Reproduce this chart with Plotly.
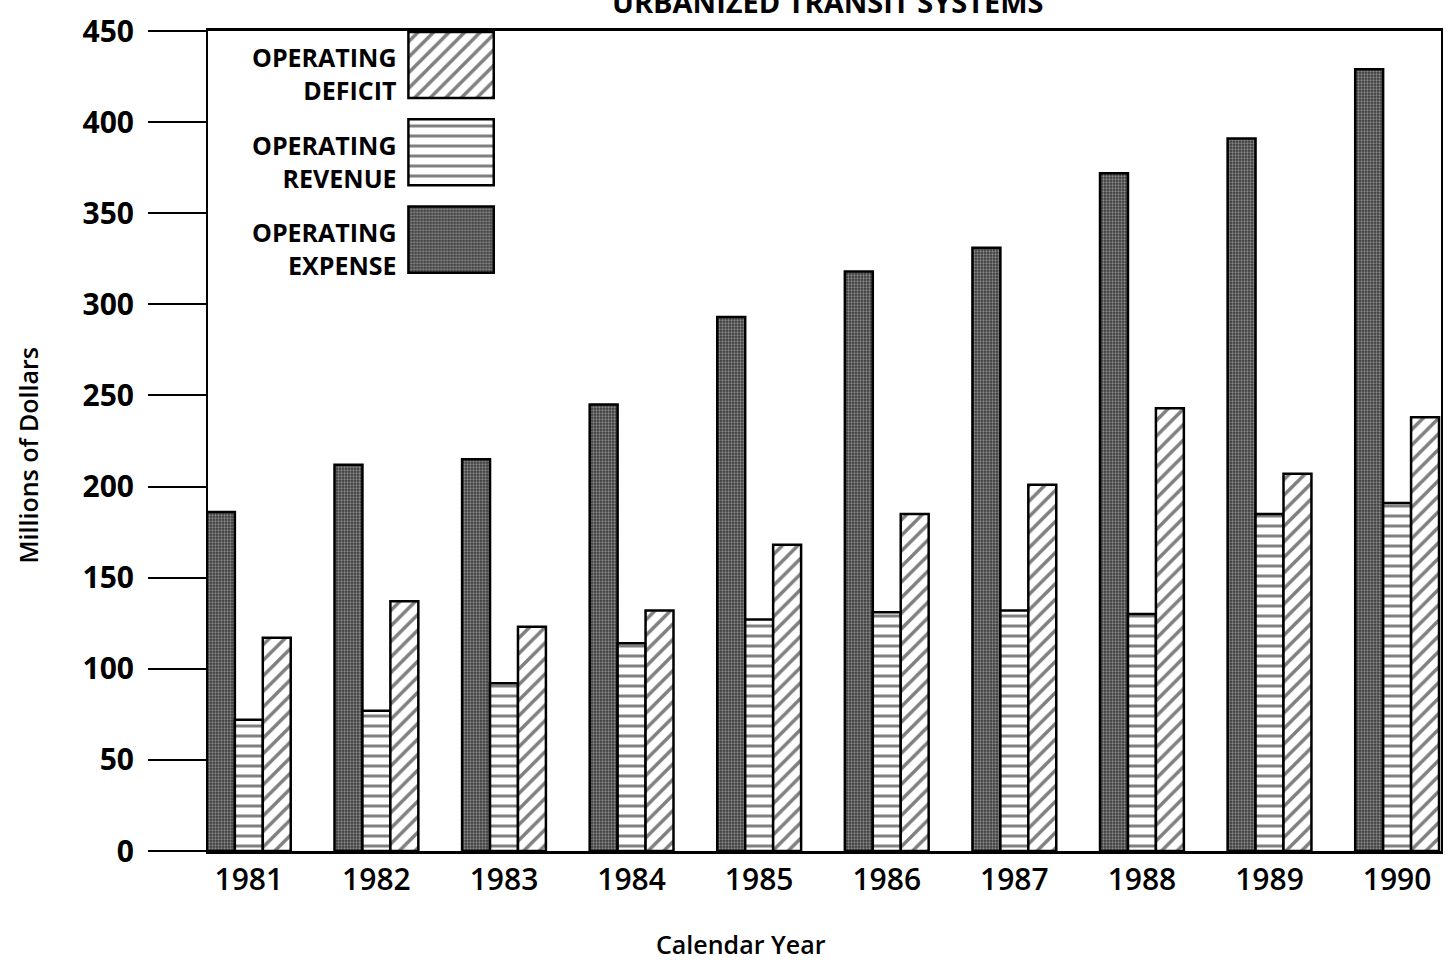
import plotly.graph_objects as go

# ---- data (millions of dollars) ----
years = ["1981", "1982", "1983", "1984", "1985", "1986", "1987", "1988", "1989", "1990"]
expense = [186, 212, 215, 245, 293, 318, 331, 372, 391, 429]
revenue = [72, 77, 92, 114, 127, 131, 132, 130, 185, 191]
deficit = [117, 137, 123, 132, 168, 185, 201, 243, 207, 238]
y_ticks = [0, 50, 100, 150, 200, 250, 300, 350, 400, 450]
legend_labels = ["OPERATING<br>DEFICIT", "OPERATING<br>REVENUE", "OPERATING<br>EXPENSE"]
title_text = "URBANIZED TRANSIT SYSTEMS"
x_title = "Calendar Year"
y_title = "Millions of Dollars"

FONT = "Open Sans"
LINE = dict(color="black", width=2.5)

styles = {
    "expense": dict(color="#454545", line=LINE,
                    pattern=dict(shape=".", fgcolor="#d8d8d8", bgcolor="#3a3a3a", size=3, solidity=0.45)),
    "revenue": dict(color="white", line=LINE,
                    pattern=dict(shape="-", fgcolor="black", bgcolor="white", size=10, solidity=0.3)),
    "deficit": dict(color="white", line=LINE,
                    pattern=dict(shape="/", fgcolor="black", bgcolor="white", size=11, solidity=0.32)),
}

fig = go.Figure()
for name, vals in (("expense", expense), ("revenue", revenue), ("deficit", deficit)):
    fig.add_trace(go.Bar(x=years, y=vals, name=name, marker=styles[name], showlegend=False))

# legend swatches (key boxes drawn on a small auxiliary axis)
for i, key in enumerate(["deficit", "revenue", "expense"]):
    fig.add_trace(go.Bar(x=[1], y=[i], base=0, width=0.757, orientation="h",
                         xaxis="x2", yaxis="y2", marker=styles[key], showlegend=False,
                         hoverinfo="skip"))
    fig.add_annotation(x=0, y=i, xref="x2", yref="y2", text=legend_labels[i],
                       xanchor="right", yanchor="middle", align="right", showarrow=False,
                       xshift=-9, yshift=-9,
                       font=dict(family=FONT, size=25, color="black", weight="bold"))

fig.update_layout(
    width=1452, height=960, autosize=False,
    margin=dict(l=208, r=9, t=30, b=109),
    paper_bgcolor="white", plot_bgcolor="white",
    barmode="group", bargap=0.343, bargroupgap=0,
    xaxis=dict(type="category", range=[-0.32, 9.344], showline=True, linecolor="black",
               linewidth=3, mirror=True, ticks="", showgrid=False, zeroline=False,
               tickfont=dict(family=FONT, size=30, color="black", weight=600)),
    yaxis=dict(range=[0, 450], tickvals=y_ticks, showline=True, linecolor="black",
               linewidth=2, mirror=True, ticks="outside", ticklen=58, tickwidth=2,
               tickcolor="black", showgrid=False, zeroline=False, ticklabelstandoff=8,
               tickfont=dict(family=FONT, size=30, color="black", weight="bold")),
    xaxis2=dict(domain=[0.1587, 0.2356], range=[-0.0556, 1.0556], anchor="y2", visible=False),
    yaxis2=dict(domain=[0.692, 1.0], range=[2.503, -0.389], anchor="x2", visible=False),
)

fig.add_annotation(x=(829 - 208) / 1235, y=1, xref="paper", yref="paper", text=title_text,
                   showarrow=False, xanchor="center", yanchor="middle", yshift=30,
                   font=dict(family=FONT, size=29, color="black", weight="bold"))
fig.add_annotation(x=(742 - 208) / 1235, y=0, xref="paper", yref="paper", text=x_title,
                   showarrow=False, xanchor="center", yanchor="middle", yshift=-93,
                   font=dict(family=FONT, size=25, color="black", weight=600))
fig.add_annotation(x=0, y=(851 - 455) / 821, xref="paper", yref="paper", text=y_title,
                   showarrow=False, textangle=-90, xanchor="center", yanchor="middle",
                   xshift=-180, font=dict(family=FONT, size=25, color="black", weight=600))

fig.write_html("out.html", config={"displayModeBar": False},
               post_script="document.body.style.margin='0px';")
